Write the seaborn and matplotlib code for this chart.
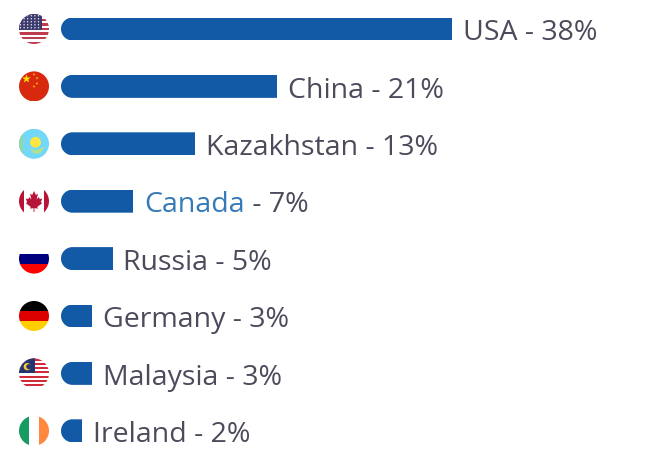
import numpy as np
import seaborn as sns
import matplotlib.pyplot as plt
from matplotlib.patches import Rectangle, Circle, Polygon
from matplotlib.path import Path
from matplotlib.transforms import Affine2D, IdentityTransform

countries = ['USA', 'China', 'Kazakhstan', 'Canada', 'Russia', 'Germany', 'Malaysia', 'Ireland']
shares = [38, 21, 13, 7, 5, 3, 3, 2]
linked = ['Canada']

bar_color = '#1259a6'
text_color = '#4b4b5c'
link_color = '#337ab7'
label_size = 20.5

sns.set_theme(style='white')
plt.rcParams['font.family'] = ['Open Sans', 'DejaVu Sans']

fig = plt.figure(figsize=(6.67, 4.58), dpi=100)
ax = fig.add_axes([0, 0, 1, 1])
sns.barplot(x=shares, y=countries, color=bar_color, saturation=1, width=0.4, linewidth=0, ax=ax)
# 一个百分点约 10.3 像素
ax.set_xlim(-61 / 10.3, 606 / 10.3)
ax.set_ylim(7.474, -0.505)
ax.axis('off')
fig.canvas.draw()

# 条形左端圆角
for bar in ax.patches:
    box = bar.get_window_extent()
    r = box.height / 2
    ang = np.linspace(np.pi / 2, 3 * np.pi / 2, 40)
    arc = np.c_[box.x0 + r + r * np.cos(ang), box.y0 + r + r * np.sin(ang)]
    pts = np.vstack([arc, [box.x1 + 5, box.y0], [box.x1 + 5, box.y1], arc[0]])
    bar.set_clip_path(Path(pts), IdentityTransform())


def rect(tf, circle, u0, v0, u1, v1, color):
    p = Rectangle((u0, v0), u1 - u0, v1 - v0, color=color, lw=0, transform=tf)
    ax.add_patch(p)
    p.set_clip_path(circle)
    return p


def shape(tf, circle, p):
    p.set_transform(tf)
    ax.add_patch(p)
    p.set_transform(tf)
    p.set_clip_path(circle)
    return p


def star(tf, circle, u, v, r, color):
    ang = np.pi / 2 + np.arange(10) * np.pi / 5
    rad = np.where(np.arange(10) % 2 == 0, r, r * 0.4)
    pts = np.c_[u + rad * np.cos(ang), v + rad * np.sin(ang)]
    shape(tf, circle, Polygon(pts, color=color, lw=0))


def stripes(tf, circle, n, c1, c2):
    edges = np.linspace(1, -1, n + 1)
    for k in range(n):
        rect(tf, circle, -1, edges[k + 1], 1, edges[k], c1 if k % 2 == 0 else c2)


def draw_flag(name, tf, circle):
    if name == 'USA':
        stripes(tf, circle, 13, '#bf3b4e', '#ffffff')
        rect(tf, circle, -1, -0.08, 0.5, 1, '#3c3b6e')
        for a in np.arange(-0.9, 0.5, 0.24):
            for b in np.arange(0.08, 1, 0.2):
                shape(tf, circle, Circle((a, b), 0.045, color='#ffffff', lw=0))
    elif name == 'China':
        rect(tf, circle, -1, -1, 1, 1, '#d8290f')
        star(tf, circle, -0.5, 0.5, 0.3, '#ffde00')
        for a, b in [(0.0, 0.8), (0.2, 0.55), (0.2, 0.2), (0.0, 0.0)]:
            star(tf, circle, a, b, 0.1, '#ffc800')
    elif name == 'Kazakhstan':
        rect(tf, circle, -1, -1, 1, 1, '#73d8f8')
        rect(tf, circle, -1, -1, -0.72, 1, '#8fd6a8')
        shape(tf, circle, Circle((0.1, 0.1), 0.36, color='#ffe642', lw=0))
        shape(tf, circle, Polygon([(-0.3, -0.3), (0.1, -0.45), (0.7, -0.2), (0.45, -0.6), (0.05, -0.68)],
                                  color='#b5e08a', lw=0))
    elif name == 'Canada':
        rect(tf, circle, -1, -1, 1, 1, '#ffffff')
        rect(tf, circle, -1, -1, -0.65, 1, '#b8143a')
        rect(tf, circle, 0.65, -1, 1, 1, '#b8143a')
        leaf = [(0, 0.68), (-0.12, 0.42), (-0.26, 0.5), (-0.18, 0.12), (-0.32, 0.28), (-0.38, 0.14),
                (-0.55, 0.18), (-0.46, -0.06), (-0.54, -0.14), (-0.22, -0.38), (-0.26, -0.5),
                (-0.03, -0.46), (-0.03, -0.72), (0.03, -0.72), (0.03, -0.46), (0.26, -0.5),
                (0.22, -0.38), (0.54, -0.14), (0.46, -0.06), (0.55, 0.18), (0.38, 0.14),
                (0.32, 0.28), (0.18, 0.12), (0.26, 0.5), (0.12, 0.42)]
        shape(tf, circle, Polygon(leaf, color='#b8143a', lw=0))
    elif name == 'Russia':
        rect(tf, circle, -1, 1 / 3, 1, 1, '#ffffff')
        rect(tf, circle, -1, -1 / 3, 1, 1 / 3, '#00007f')
        rect(tf, circle, -1, -1, 1, -1 / 3, '#ff0000')
    elif name == 'Germany':
        rect(tf, circle, -1, 1 / 3, 1, 1, '#000000')
        rect(tf, circle, -1, -1 / 3, 1, 1 / 3, '#dd0000')
        rect(tf, circle, -1, -1, 1, -1 / 3, '#ffce00')
    elif name == 'Malaysia':
        stripes(tf, circle, 14, '#cf2b3a', '#ffffff')
        rect(tf, circle, -1, 0.0, 0.05, 1, '#24356f')
        shape(tf, circle, Circle((-0.45, 0.45), 0.24, color='#ffcf2e', lw=0))
        shape(tf, circle, Circle((-0.35, 0.45), 0.17, color='#24356f', lw=0))
    elif name == 'Ireland':
        rect(tf, circle, -1, -1, -1 / 3, 1, '#169b62')
        rect(tf, circle, -1 / 3, -1, 1 / 3, 1, '#ffffff')
        rect(tf, circle, 1 / 3, -1, 1, 1, '#ff883e')


for i, (name, share) in enumerate(zip(countries, shares)):
    _, cy = ax.transData.transform((0, i))
    tf = Affine2D().scale(15).translate(34, cy)
    circle = Circle((0, 0), 1, transform=tf)
    draw_flag(name, tf, circle)

    tail = ' - %d%%' % share
    if name in linked:
        t = ax.annotate(name, xy=(share, i), xytext=(7.9, -0.5), textcoords='offset points',
                        va='center_baseline', fontsize=label_size, color=link_color)
        w = t.get_window_extent(fig.canvas.get_renderer()).width * 72 / fig.dpi
        ax.annotate(tail, xy=(share, i), xytext=(7.9 + w, -0.5), textcoords='offset points',
                    va='center_baseline', fontsize=label_size, color=text_color)
    else:
        ax.annotate(name + tail, xy=(share, i), xytext=(7.9, -0.5), textcoords='offset points',
                    va='center_baseline', fontsize=label_size, color=text_color)

fig.savefig('out.png', dpi=100, facecolor='white')
